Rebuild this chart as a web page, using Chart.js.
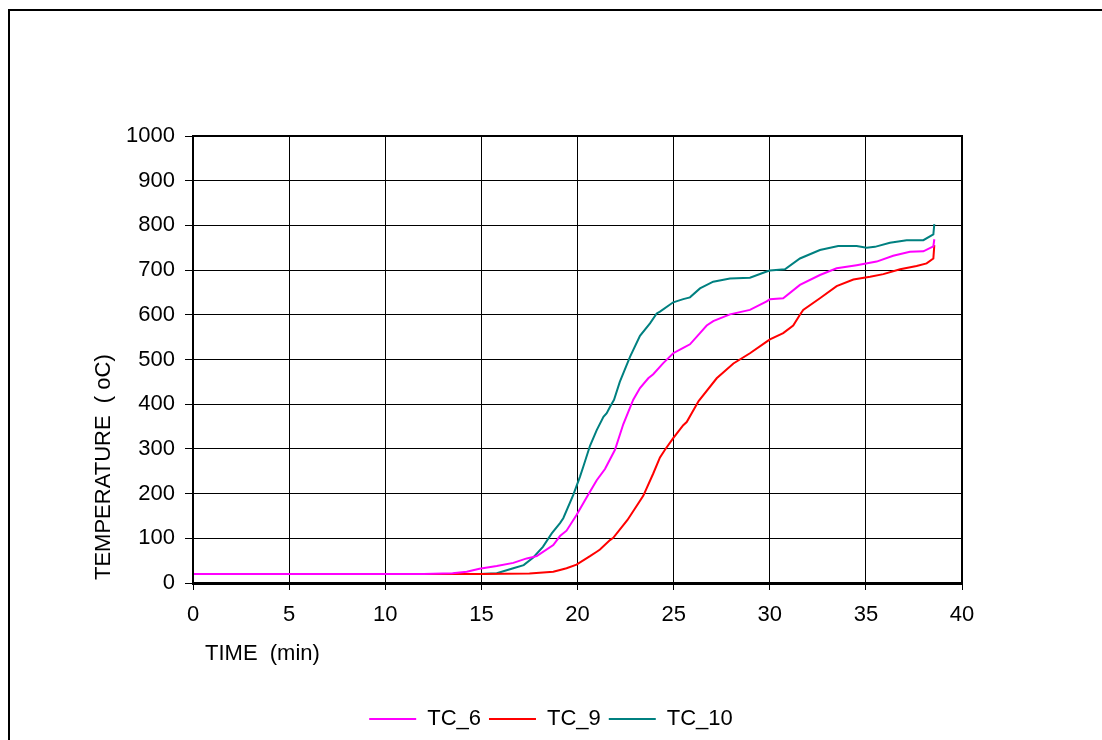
<!DOCTYPE html>
<html>
<head>
<meta charset="utf-8">
<script src="https://cdn.jsdelivr.net/npm/chart.js@4.4.1/dist/chart.umd.min.js"></script>
<style>
  html, body { margin: 0; padding: 0; background: #fff; }
  #wrap { position: relative; width: 1102px; height: 740px; }
  canvas { display: block; }
</style>
</head>
<body>
<div id="wrap"><canvas id="c" width="1102" height="740"></canvas></div>
<script>
// ---- data (time in min, temperature in oC) ----
const seriesNames = ["TC_6", "TC_9", "TC_10"];
const seriesColors = ["#FF00FF", "#FF0000", "#008080"];

const tc6Time = [0, 5, 10, 12, 13.5, 14.24, 14.9, 15.8, 16.66, 17.36, 17.88, 18.74, 19.09, 19.43, 19.95, 20.48, 21.0, 21.43, 21.95, 22.38, 22.9, 23.25, 23.68, 23.94, 24.46, 24.98, 25.5, 25.85, 26.37, 26.72, 27.06, 27.41, 27.93, 28.97, 29.84, 30.01, 30.7, 31.57, 32.61, 33.48, 34.52, 35.56, 36.42, 37.29, 37.99, 38.51, 38.56];
const tc6Temp = [20, 20, 20, 20, 22, 25, 32, 38, 45, 55, 60, 85, 105, 117, 152, 192, 230, 255, 298, 355, 410, 436, 458, 467, 492, 514, 526, 534, 559, 576, 586, 592, 601, 611, 630, 635, 637, 667, 689, 704, 711, 719, 732, 741, 742, 753, 769];

const tc9Time = [0, 5, 10, 15, 17.5, 18.74, 19.09, 19.43, 19.95, 20.65, 21.0, 21.17, 21.69, 21.86, 22.6, 23.42, 23.94, 24.29, 24.55, 24.98, 25.5, 25.68, 26.3, 27.24, 28.11, 28.97, 29.84, 30.01, 30.7, 31.22, 31.57, 31.74, 32.61, 33.48, 34.35, 35.22, 35.91, 36.78, 37.64, 38.16, 38.51, 38.56];
const tc9Temp = [20, 20, 20, 20, 21, 25, 29, 33, 41, 60, 70, 75, 96, 101, 141, 195, 245, 281, 298, 324, 353, 360, 407, 458, 491, 514, 540, 545, 559, 576, 600, 611, 637, 664, 679, 685, 691, 702, 709, 715, 726, 756];

const tc10Time = [0, 5, 10, 14.9, 15.8, 16.66, 17.2, 17.7, 18.2, 18.66, 19.09, 19.26, 19.78, 20.13, 20.3, 20.65, 21.0, 21.35, 21.52, 21.7, 21.9, 22.2, 22.73, 23.25, 23.77, 24.12, 24.29, 24.98, 25.5, 25.85, 26.37, 27.06, 27.93, 28.97, 29.84, 30.01, 30.79, 31.57, 32.61, 33.56, 34.52, 35.04, 35.47, 36.25, 37.12, 37.99, 38.51, 38.56];
const tc10Temp = [20, 20, 20, 20, 22, 33, 40, 57, 81, 111, 134, 145, 197, 238, 260, 307, 342, 372, 380, 395, 410, 450, 506, 553, 581, 603, 607, 628, 635, 639, 659, 674, 681, 683, 697, 699, 702, 726, 745, 754, 754, 750, 752, 761, 767, 767, 780, 803];

const xTitle = "TIME  (min)";
const yTitle = "TEMPERATURE  ( oC)";

const xMin = 0, xMax = 40, xStep = 5;
const yMin = 0, yMax = 1000, yStep = 100;

// ---- build ----
const FONT = '"Liberation Sans", Arial, sans-serif';
function pts(t, v) { return t.map((x, i) => ({ x: x, y: v[i] })); }
const allTimes = [tc6Time, tc9Time, tc10Time];
const allTemps = [tc6Temp, tc9Temp, tc10Temp];

const datasets = seriesNames.map((n, i) => ({
  label: n,
  data: pts(allTimes[i], allTemps[i]),
  borderColor: seriesColors[i],
  backgroundColor: seriesColors[i],
  borderWidth: 2,
  pointRadius: 0,
  tension: 0,
  fill: false
}));

const decor = {
  id: 'decor',
  beforeDraw(chart) {
    const ctx = chart.ctx;
    ctx.save();
    ctx.fillStyle = '#fff';
    ctx.fillRect(0, 0, chart.width, chart.height);
    ctx.fillStyle = '#000';
    ctx.fillRect(8, 9, chart.width - 8, 2);
    ctx.fillRect(8, 9, 2, chart.height - 9);
    ctx.restore();
  },
  afterDraw(chart) {
    const ctx = chart.ctx;
    const a = chart.chartArea;
    ctx.save();
    ctx.strokeStyle = '#000';
    ctx.lineWidth = 2;
    ctx.strokeRect(a.left, a.top, a.right - a.left, a.bottom - a.top);
    ctx.fillStyle = '#000';
    ctx.fillRect(a.left - 1, a.bottom - 1, a.right - a.left + 2, 3);
    ctx.font = '22px ' + FONT;
    ctx.textBaseline = 'alphabetic';
    ctx.textAlign = 'left';
    ctx.fillText(xTitle, 205, 660);
    ctx.translate(110, 580);
    ctx.rotate(-Math.PI / 2);
    ctx.fillText(yTitle, 0, 0);
    ctx.restore();
  }
};

new Chart(document.getElementById('c'), {
  type: 'line',
  data: { datasets },
  plugins: [decor],
  options: {
    responsive: false,
    animation: false,
    devicePixelRatio: 1,
    layout: { padding: { top: 136, left: 0, right: 0, bottom: 0 } },
    plugins: {
      tooltip: { enabled: false },
      legend: {
        position: 'bottom',
        labels: {
          font: { family: FONT, size: 22 },
          color: '#000',
          boxWidth: 47,
          boxHeight: 2,
          padding: 8,
          generateLabels(chart) {
            const items = Chart.defaults.plugins.legend.labels.generateLabels(chart);
            items.forEach(it => { it.lineWidth = 0; it.fillStyle = it.strokeStyle; });
            return items;
          }
        }
      }
    },
    scales: {
      x: {
        type: 'linear',
        min: xMin, max: xMax,
        afterFit(s) { s.height = 117; },
        ticks: { stepSize: xStep, color: '#000', font: { family: FONT, size: 22 }, padding: 12, maxRotation: 0,
                 callback: v => String(v) },
        grid: { color: '#000', lineWidth: 1, tickLength: 7, drawTicks: true },
        border: { display: false }
      },
      y: {
        type: 'linear',
        min: yMin, max: yMax,
        afterFit(s) { s.width = 193; },
        ticks: { stepSize: yStep, color: '#000', font: { family: FONT, size: 22 }, padding: 10,
                 callback: v => String(v) },
        grid: { color: '#000', lineWidth: 1, tickLength: 8, drawTicks: true },
        border: { display: false }
      },
      yr: {
        type: 'linear',
        position: 'right',
        min: yMin, max: yMax,
        afterFit(s) { s.width = 140; },
        ticks: { display: false },
        grid: { display: false },
        border: { display: false }
      }
    }
  }
});
</script>
</body>
</html>
